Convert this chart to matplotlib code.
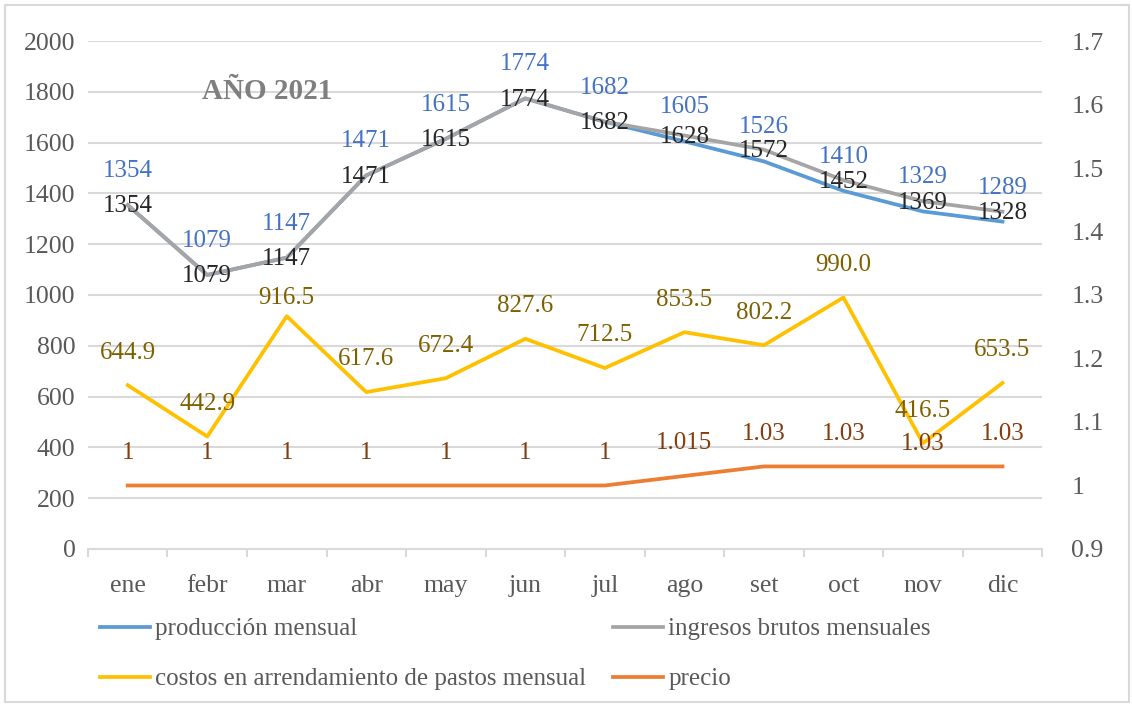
import matplotlib.pyplot as plt
from matplotlib.patches import Rectangle

# datos mensuales 2021
meses = ['ene', 'febr', 'mar', 'abr', 'may', 'jun', 'jul', 'ago', 'set', 'oct', 'nov', 'dic']
produccion = [1354, 1079, 1147, 1471, 1615, 1774, 1682, 1605, 1526, 1410, 1329, 1289]
ingresos = [1354, 1079, 1147, 1471, 1615, 1774, 1682, 1628, 1572, 1452, 1369, 1328]
costos = [644.9, 442.9, 916.5, 617.6, 672.4, 827.6, 712.5, 853.5, 802.2, 990.0, 416.5, 653.5]
precio = [1, 1, 1, 1, 1, 1, 1, 1.015, 1.03, 1.03, 1.03, 1.03]
precio_txt = ['1', '1', '1', '1', '1', '1', '1', '1.015', '1.03', '1.03', '1.03', '1.03']

plt.rcParams['font.family'] = ['Liberation Serif', 'DejaVu Serif']
plt.rcParams['font.size'] = 18

azul = '#5b9bd5'
gris = '#a5a5a5'
amarillo = '#ffc000'
naranja = '#ed7d31'
grid_c = '#d9d9d9'
txt_c = '#595959'

fig = plt.figure(figsize=(11.32, 7.07), dpi=100)
ax = fig.add_axes([0.0777, 0.2235, 0.843, 0.7185])
x = list(range(len(meses)))

l1, = ax.plot(x, produccion, color=azul, lw=2.7, label='producción mensual', zorder=3)
l2, = ax.plot(x, ingresos, color=gris, lw=2.7, label='ingresos brutos mensuales', zorder=4)
l3, = ax.plot(x, costos, color=amarillo, lw=2.7, label='costos en arrendamiento de pastos mensual', zorder=3)

ax.set_ylim(0, 2000)
ax.set_yticks(range(0, 2001, 200))
ax.set_xlim(-0.5, len(meses) - 0.5)
ax.set_xticks(x)
ax.set_xticklabels(meses)
ax.set_xticks([i + 0.5 for i in range(-1, len(meses))], minor=True)
ax.tick_params(axis='x', which='major', length=0, pad=19, colors=txt_c, labelsize=18.5)
ax.tick_params(axis='x', which='minor', length=6, color=grid_c, width=1.5)
ax.tick_params(axis='y', length=0, pad=9, colors=txt_c, labelsize=18.5)
ax.grid(axis='y', color=grid_c, lw=1.5)
ax.set_axisbelow(True)
for s in ['top', 'left', 'right']:
    ax.spines[s].set_visible(False)
ax.spines['bottom'].set_color(grid_c)
ax.spines['bottom'].set_linewidth(1.5)

# eje secundario para el precio
ax2 = ax.twinx()
l4, = ax2.plot(x, precio, color=naranja, lw=2.7, label='precio')
ax2.set_ylim(0.9, 1.7)
ax2.set_yticks([0.9, 1.0, 1.1, 1.2, 1.3, 1.4, 1.5, 1.6, 1.7])
ax2.set_yticklabels(['0.9', '1', '1.1', '1.2', '1.3', '1.4', '1.5', '1.6', '1.7'])
ax2.tick_params(axis='y', length=0, pad=21, colors=txt_c, labelsize=18.5)
for s in ax2.spines.values():
    s.set_visible(False)

# etiquetas de datos
for i in x:
    ax.annotate(str(produccion[i]), (i, produccion[i]), xytext=(0, 24.5), textcoords='offset points',
                ha='center', va='center', color='#4472c4', fontsize=18, zorder=6)
    ax.annotate(str(ingresos[i]), (i, ingresos[i]), xytext=(0, -1), textcoords='offset points',
                ha='center', va='center', color='#262626', fontsize=18, zorder=6)
    dc = 13 if i == 2 else 23.5
    ax.annotate(f'{costos[i]:.1f}', (i, costos[i]), xytext=(0, dc), textcoords='offset points',
                ha='center', va='center', color='#7f6000', fontsize=18, zorder=6)
    dy = 16 if i == 10 else 23.5
    ax2.annotate(precio_txt[i], (i, precio[i]), xytext=(0, dy), textcoords='offset points',
                 ha='center', va='center', color='#843c0c', fontsize=18, zorder=6)

ax.text(1.75, 1800, 'AÑO 2021', ha='center', va='center', fontsize=21, fontweight='bold', color='#7f7f7f')

# leyenda en dos columnas, orden por filas
fig.legend(handles=[l1, l3, l2, l4], loc='upper left', bbox_to_anchor=(0.088, 0.126), ncol=2,
           frameon=False, fontsize=18, handlelength=2.0, handletextpad=0.2, columnspacing=1.1,
           labelspacing=1.1, borderpad=0, borderaxespad=0, labelcolor=txt_c)

# marco exterior
fig.patches.append(Rectangle((0.0045, 0.007), 0.9925, 0.986, transform=fig.transFigure,
                             fill=False, edgecolor=grid_c, lw=1.5))

fig.savefig('out.png', dpi=100)
